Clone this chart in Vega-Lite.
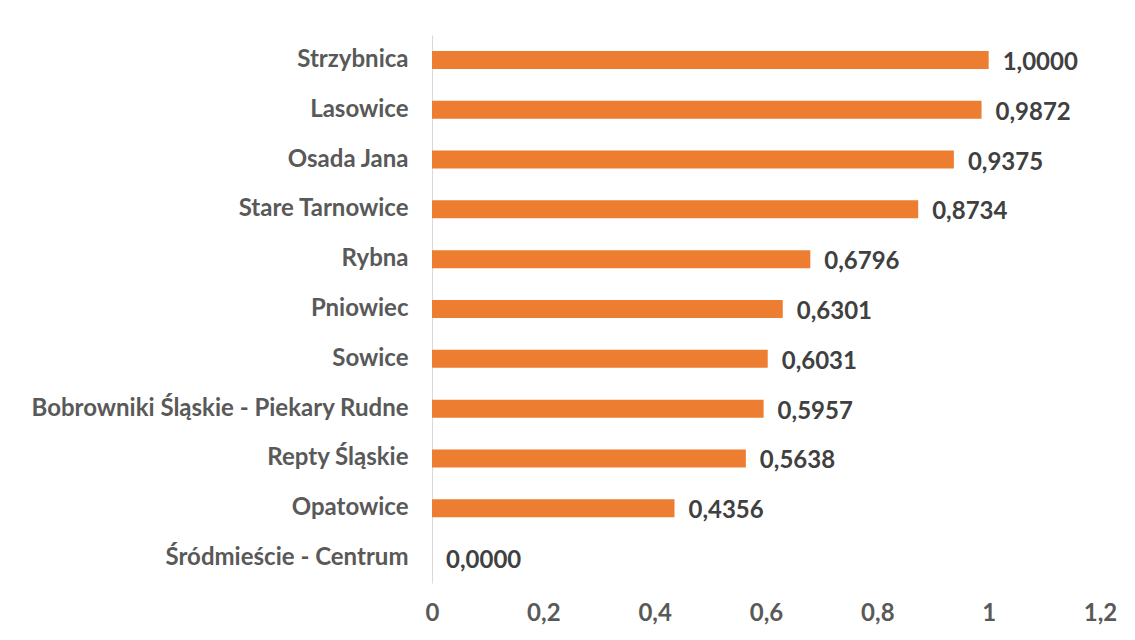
{
  "$schema": "https://vega.github.io/schema/vega-lite/v6.json",
  "autosize": {"type": "none"},
  "width": 668,
  "height": 548,
  "padding": {"left": 432, "top": 35, "right": 35, "bottom": 57},
  "background": "white",
  "config": {
    "locale": {"number": {"decimal": ",", "thousands": " ", "grouping": [3], "currency": ["", " zł"]}},
    "view": {"stroke": null},
    "font": "Lato"
  },
  "data": {"values": [
    {"name": "Strzybnica", "value": 1.0},
    {"name": "Lasowice", "value": 0.9872},
    {"name": "Osada Jana", "value": 0.9375},
    {"name": "Stare Tarnowice", "value": 0.8734},
    {"name": "Rybna", "value": 0.6796},
    {"name": "Pniowiec", "value": 0.6301},
    {"name": "Sowice", "value": 0.6031},
    {"name": "Bobrowniki Śląskie - Piekary Rudne", "value": 0.5957},
    {"name": "Repty Śląskie", "value": 0.5638},
    {"name": "Opatowice", "value": 0.4356},
    {"name": "Śródmieście - Centrum", "value": 0.0}
  ]},
  "encoding": {
    "y": {
      "field": "name", "type": "nominal", "sort": null,
      "axis": {
        "title": null, "ticks": false, "domain": true, "domainColor": "#D9D9D9", "domainWidth": 1,
        "labelFont": "Lato", "labelFontWeight": "bold", "labelFontSize": 24, "labelColor": "#595959",
        "labelPadding": 24, "labelLimit": 500
      }
    },
    "x": {
      "field": "value", "type": "quantitative",
      "scale": {"domain": [0, 1.2], "nice": false},
      "axis": {
        "title": null, "ticks": false, "domain": false, "grid": false,
        "values": [0, 0.2, 0.4, 0.6, 0.8, 1, 1.2], "format": "~g",
        "labelFont": "Lato", "labelFontWeight": "bold", "labelFontSize": 24, "labelColor": "#595959",
        "labelPadding": 18, "labelFlush": false
      }
    }
  },
  "layer": [
    {"mark": {"type": "bar", "color": "#ED7D31", "size": 18}},
    {
      "mark": {"type": "text", "align": "left", "baseline": "middle", "dx": 14, "dy": 3, "font": "Lato", "fontWeight": "bold", "fontSize": 24, "color": "#404040"},
      "encoding": {"text": {"field": "value", "type": "quantitative", "format": ".4f"}}
    }
  ]
}
